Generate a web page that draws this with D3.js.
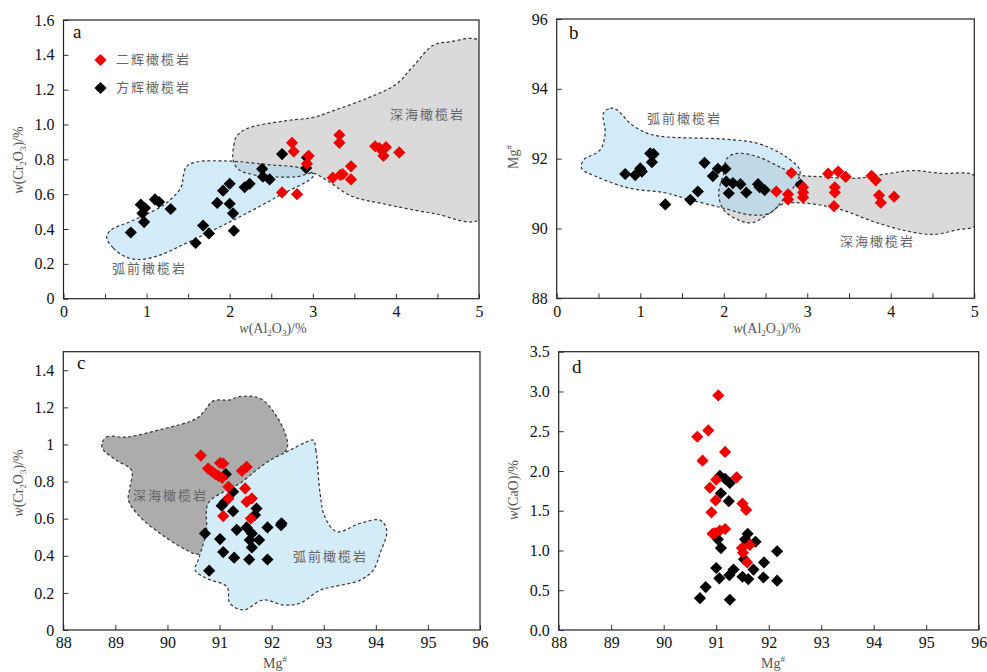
<!DOCTYPE html>
<html>
<head>
<meta charset="utf-8">
<script src="https://cdn.jsdelivr.net/npm/d3@7"></script>
<style>
  body { margin: 0; background: #fff; }
  text { font-family: "Liberation Serif", "Times New Roman", serif; }
  .cn { font-family: "Noto Sans CJK SC", sans-serif; fill: #666; font-size: 13px; letter-spacing: 2px; }
</style>
</head>
<body>
<svg id="chart" width="987" height="672"></svg>
<script>
// 图 a: w(Al2O3) - w(Cr2O3)
const aHarz = [[0.81,0.38],[0.93,0.54],[0.98,0.52],[0.95,0.49],[0.97,0.44],[1.10,0.57],[1.15,0.555],[1.29,0.515],
  [1.59,0.32],[1.68,0.42],[1.75,0.375],[1.85,0.55],[1.92,0.62],[2.00,0.66],[2.00,0.545],[2.04,0.49],[2.05,0.39],
  [2.18,0.64],[2.24,0.66],[2.39,0.745],[2.40,0.70],[2.48,0.685],[2.63,0.83],[2.92,0.75],[2.93,0.81]];
const aLherz = [[2.75,0.895],[2.77,0.845],[2.63,0.61],[2.81,0.60],[2.95,0.82],[2.93,0.775],[3.32,0.94],[3.32,0.895],
  [3.24,0.695],[3.33,0.71],[3.36,0.715],[3.46,0.76],[3.46,0.685],[3.75,0.875],[3.80,0.865],[3.88,0.87],[3.85,0.82],[4.04,0.84]];
// 图 b: w(Al2O3) - Mg#
const bHarz = [[0.82,91.56],[0.94,91.53],[1.00,91.72],[1.02,91.63],[1.12,92.15],[1.16,92.13],[1.14,91.90],[1.30,90.69],
  [1.60,90.82],[1.69,91.06],[1.77,91.88],[1.87,91.50],[1.93,91.71],[2.02,91.71],[2.03,91.34],[2.11,91.30],[2.06,91.01],
  [2.20,91.27],[2.27,91.03],[2.41,91.27],[2.43,91.18],[2.49,91.10],[2.92,91.25]];
const bLherz = [[2.63,91.06],[2.81,91.59],[2.77,90.98],[2.77,90.83],[2.95,91.18],[2.95,91.03],[2.95,90.89],[3.25,91.57],
  [3.37,91.63],[3.46,91.48],[3.33,91.18],[3.33,91.03],[3.32,90.64],[3.77,91.51],[3.82,91.38],[3.86,90.95],[3.88,90.74],[4.04,90.91]];
// 图 c: Mg# - w(Cr2O3)
const cHarz = [[90.72,0.52],[90.80,0.32],[91.01,0.49],[91.07,0.42],[91.04,0.67],[91.12,0.84],[91.26,0.64],[91.26,0.745],
  [91.28,0.39],[91.33,0.54],[91.52,0.553],[91.57,0.38],[91.62,0.52],[91.58,0.485],[91.62,0.445],[91.76,0.485],[91.71,0.655],
  [91.68,0.62],[91.92,0.38],[91.92,0.553],[92.18,0.565],[92.19,0.575],[91.10,0.69]];
const cLherz = [[90.64,0.94],[90.78,0.87],[90.85,0.855],[90.92,0.84],[90.98,0.83],[91.01,0.90],[91.07,0.897],[91.05,0.82],
  [91.17,0.772],[91.17,0.709],[91.07,0.614],[91.43,0.858],[91.52,0.879],[91.49,0.763],[91.52,0.691],[91.62,0.709],[91.60,0.601]];
// 图 d: Mg# - w(CaO)
const dHarz = [[91.07,1.94],[91.17,1.90],[91.26,1.85],[91.09,1.72],[91.24,1.62],[91.03,1.14],[91.09,1.03],[91.60,1.21],
  [91.55,1.14],[91.75,1.11],[91.53,0.89],[91.00,0.78],[91.06,0.65],[91.25,0.69],[91.33,0.76],[91.50,0.67],[91.61,0.64],
  [91.71,0.76],[91.91,0.85],[91.90,0.66],[92.16,0.99],[92.16,0.62],[90.80,0.54],[90.69,0.40],[91.26,0.38]];
const dLherz = [[91.04,2.95],[90.85,2.51],[90.64,2.43],[91.17,2.24],[90.74,2.13],[91.39,1.92],[91.00,1.89],[90.88,1.79],
  [90.99,1.63],[90.91,1.48],[91.50,1.59],[91.57,1.51],[91.17,1.27],[91.07,1.25],[90.93,1.21],[90.98,1.22],[91.49,1.03],
  [91.64,1.07],[91.51,0.97],[91.59,0.85]];

// 区域边界
const aForearc = [[0.52,0.35],[0.60,0.29],[0.75,0.24],[0.92,0.225],[1.16,0.25],[1.48,0.32],[2.04,0.45],[2.57,0.585],
  [3.01,0.71],[2.85,0.75],[2.45,0.77],[2.0,0.79],[1.60,0.785],[1.48,0.76],[1.44,0.70],[1.42,0.645],[1.24,0.55],[0.84,0.45],[0.56,0.39]];
const aAbyssal = [[2.04,0.80],[2.05,0.88],[2.08,0.93],[2.2,0.975],[2.65,1.02],[3.0,1.04],[3.25,1.08],[3.65,1.15],[4.0,1.23],
  [4.2,1.33],[4.45,1.455],[4.65,1.475],[5.02,1.475],[5.02,0.46],[4.45,0.49],[3.85,0.545],[3.46,0.59],[3.17,0.68],[3.0,0.72],
  [2.8,0.70],[2.3,0.71],[2.1,0.745]];
const bForearc = [[0.56,93.30],[0.64,93.44],[0.72,93.40],[0.88,93.01],[1.08,92.73],[1.28,92.63],[2.0,92.56],[2.40,92.44],
  [2.71,92.11],[2.91,91.68],[2.89,91.39],[2.71,90.82],[2.55,90.44],[2.32,90.39],[2.0,90.58],[1.60,90.82],[1.28,91.03],
  [0.88,91.15],[0.48,91.48],[0.30,91.72],[0.32,91.96],[0.52,92.25],[0.58,92.73]];
const bAbyssal = [[2.16,92.15],[2.40,92.06],[2.71,91.72],[2.91,91.53],[3.19,91.48],[3.59,91.44],[3.99,91.58],[4.27,91.66],
  [4.59,91.58],[5.02,91.48],[5.02,90.10],[4.79,89.96],[4.51,89.83],[4.19,89.93],[3.79,90.20],[3.39,90.55],[2.99,90.72],
  [2.71,90.70],[2.55,90.44],[2.35,90.17],[2.20,90.22],[2.0,90.53],[1.94,91.01],[2.0,91.58],[2.04,92.01]];
const cAbyssal = [[88.74,1.0],[88.83,1.04],[89.22,1.04],[89.86,1.08],[90.56,1.14],[90.72,1.185],[90.88,1.235],[91.2,1.24],
  [91.36,1.257],[91.78,1.248],[92.1,1.15],[92.3,1.02],[92.28,0.97],[91.8,0.85],[91.3,0.7],[91.0,0.55],[90.6,0.41],[90.37,0.43],
  [89.86,0.52],[89.47,0.61],[89.25,0.70],[89.28,0.77],[89.31,0.86],[89.02,0.915],[88.77,0.97]];
const cForearc = [[92.80,1.023],[92.85,0.97],[92.93,0.736],[93.02,0.61],[93.25,0.53],[93.70,0.575],[94.08,0.592],[94.21,0.538],
  [94.08,0.413],[93.95,0.323],[93.70,0.269],[93.18,0.233],[92.93,0.215],[92.54,0.144],[92.22,0.135],[91.84,0.162],[91.46,0.108],
  [91.20,0.144],[91.14,0.233],[90.75,0.278],[90.53,0.323],[90.59,0.377],[90.69,0.467],[90.75,0.538],[90.78,0.682],[91.14,0.754],
  [91.39,0.79],[91.71,0.862],[91.97,0.915],[92.35,0.969],[92.67,1.014]];

const seriesNames = ['二辉橄榄岩', '方辉橄榄岩'];
const colLherz = '#f00000', colHarz = '#000';

const svg = d3.select('#chart');
svg.append('rect').attr('width', 987).attr('height', 672).attr('fill', '#fff');
let clipId = 0;

function title(g, x, y, parts, rotate) {
  const t = g.append('text').attr('fill', '#555').style('font-size', '14px')
    .attr('text-anchor', 'middle')
    .attr('transform', `translate(${x},${y})` + (rotate ? 'rotate(-90)' : ''))
    .attr('dy', '0.35em');
  let shift = 0;
  parts.forEach(p => {
    const s = t.append('tspan').text(p[0]);
    const want = p[1] === 's' ? 3 : p[1] === 'u' ? -6 : 0;
    if (want !== shift) { s.attr('dy', want - shift); shift = want; }
    if (p[1] === 'i') s.style('font-style', 'italic');
    if (p[1] === 's' || p[1] === 'u') s.style('font-size', '9px');
  });
}

function panel(cfg) {
  const [x0, x1, y0, y1] = cfg.box;
  const x = d3.scaleLinear().domain(cfg.xDomain).range([x0, x1]);
  const y = d3.scaleLinear().domain(cfg.yDomain).range([y1, y0]);
  const g = svg.append('g');
  const id = 'clip' + (clipId++);
  g.append('clipPath').attr('id', id).append('rect')
    .attr('x', x0).attr('y', y0).attr('width', x1 - x0).attr('height', y1 - y0);

  const line = d3.line().x(d => x(d[0])).y(d => y(d[1])).curve(d3.curveCatmullRomClosed.alpha(0.5));
  const area = g.append('g').attr('clip-path', `url(#${id})`);
  const regions = cfg.regions || [];
  // 填充（可半透明叠加），再画虚线边界
  regions.forEach(r => {
    area.append('path').attr('d', line(r.pts)).attr('fill', r.fill)
      .attr('fill-opacity', r.opacity || 1);
    if (r.outlineNow) {
      area.append('path').attr('d', line(r.pts)).attr('fill', 'none')
        .attr('stroke', '#333').attr('stroke-width', 1.2).attr('stroke-dasharray', '3,2.5');
    }
  });
  regions.filter(r => !r.outlineNow).forEach(r => {
    area.append('path').attr('d', line(r.pts)).attr('fill', 'none')
      .attr('stroke', '#333').attr('stroke-width', 1.2).attr('stroke-dasharray', '3,2.5');
  });
  (cfg.labels || []).forEach(l => {
    g.append('text').attr('class', 'cn').attr('x', l[0]).attr('y', l[1])
      .attr('dominant-baseline', 'middle').text(l[2]);
  });

  const diamond = d3.symbol(d3.symbolSquare, 74);
  [[cfg.harz, colHarz], [cfg.lherz, colLherz]].forEach(([data, col]) => {
    g.append('g').selectAll('path').data(data).join('path')
      .attr('d', diamond)
      .attr('transform', d => `translate(${x(d[0])},${y(d[1])})rotate(45)`)
      .attr('fill', col);
  });

  const xAxis = d3.axisBottom(x).tickValues(cfg.xTicks).tickFormat(cfg.xFmt)
    .tickSizeInner(-5).tickSizeOuter(0).tickPadding(7);
  const yAxis = d3.axisLeft(y).tickValues(cfg.yTicks).tickFormat(cfg.yFmt)
    .tickSizeInner(-5).tickSizeOuter(0).tickPadding(9);
  [[xAxis, `translate(0,${y1})`], [yAxis, `translate(${x0},0)`]].forEach(([ax, tr]) => {
    const a = g.append('g').attr('transform', tr).call(ax);
    a.select('.domain').remove();
    a.selectAll('line').attr('stroke', '#333');
    a.selectAll('text').style('font-size', '16px').style('font-family', '"Liberation Serif", serif').attr('fill', '#111');
  });
  g.append('rect').attr('x', x0).attr('y', y0).attr('width', x1 - x0).attr('height', y1 - y0)
    .attr('fill', 'none').attr('stroke', '#222').attr('stroke-width', 1.2);

  g.append('text').attr('x', cfg.letter[0]).attr('y', cfg.letter[1]).style('font-size', '19px')
    .attr('fill', '#111').text(cfg.letter[2]);
  title(g, cfg.xTitle[0], cfg.xTitle[1], cfg.xTitle[2], false);
  title(g, cfg.yTitle[0], cfg.yTitle[1], cfg.yTitle[2], true);
  return g;
}

const f1 = v => v === 0 ? '0' : d3.format('.1f')(v);
const intOnly = v => Number.isInteger(Math.round(v * 1000) / 1000) ? d3.format('d')(v) : '';
const al = [['w', 'i'], ['(Al'], ['2', 's'], ['O'], ['3', 's'], [')/%']];
const cr = [['w', 'i'], ['(Cr'], ['2', 's'], ['O'], ['3', 's'], [')/%']];
const mg = [['Mg'], ['#', 'u']];
// 半透明蓝色叠在灰色上，交叠处呈蓝灰色
const blueSemi = '#a8d5f3', grey = '#dadada', darkGrey = '#acacac', blue = '#d4ebf8';

const ga = panel({
  box: [63.5, 479, 20, 298.7], xDomain: [0, 5], yDomain: [0, 1.6],
  xTicks: d3.range(0, 5.01, 0.5), xFmt: intOnly,
  yTicks: d3.range(0, 1.61, 0.2), yFmt: f1,
  harz: aHarz, lherz: aLherz,
  regions: [{ pts: aAbyssal, fill: grey }, { pts: aForearc, fill: blueSemi, opacity: 0.5 }],
  labels: [[390, 115, '深海橄榄岩'], [112, 269, '弧前橄榄岩']],
  letter: [73, 38, 'a'], xTitle: [273, 328, al], yTitle: [18, 160, cr]
});
// 图例
[[colLherz, 60, seriesNames[0]], [colHarz, 88, seriesNames[1]]].forEach(([c, yy, name]) => {
  ga.append('path').attr('d', d3.symbol(d3.symbolSquare, 74))
    .attr('transform', `translate(100.5,${yy})rotate(45)`).attr('fill', c);
  ga.append('text').attr('class', 'cn').attr('x', 116).attr('y', yy)
    .attr('dominant-baseline', 'middle').text(name);
});

panel({
  box: [556.7, 974.3, 19, 298.3], xDomain: [0, 5], yDomain: [88, 96],
  xTicks: d3.range(0, 5.01, 0.5), xFmt: intOnly,
  yTicks: d3.range(88, 96.1, 2), yFmt: d3.format('d'),
  harz: bHarz, lherz: bLherz,
  regions: [{ pts: bAbyssal, fill: grey }, { pts: bForearc, fill: blueSemi, opacity: 0.5 }],
  labels: [[647, 119, '弧前橄榄岩'], [840, 242, '深海橄榄岩']],
  letter: [569, 39, 'b'], xTitle: [767, 328, al], yTitle: [513, 157, mg]
});

panel({
  box: [63.3, 480, 351.7, 630], xDomain: [88, 96], yDomain: [0, 1.5],
  xTicks: d3.range(88, 96.1, 1), xFmt: d3.format('d'),
  yTicks: d3.range(0, 1.41, 0.2), yFmt: d3.format(''),
  harz: cHarz, lherz: cLherz,
  regions: [{ pts: cAbyssal, fill: darkGrey, outlineNow: true }, { pts: cForearc, fill: blue, outlineNow: true }],
  labels: [[133, 496, '深海橄榄岩'], [293, 557, '弧前橄榄岩']],
  letter: [77, 369, 'c'], xTitle: [275, 663, mg], yTitle: [18, 483, cr]
});

panel({
  box: [558.7, 978.7, 351.7, 630], xDomain: [88, 96], yDomain: [0, 3.5],
  xTicks: d3.range(88, 96.1, 1), xFmt: d3.format('d'),
  yTicks: d3.range(0, 3.51, 0.5), yFmt: d3.format('.1f'),
  harz: dHarz, lherz: dLherz,
  letter: [572, 373, 'd'], xTitle: [773, 663, mg],
  yTitle: [513, 490, [['w', 'i'], ['(CaO)/%']]]
});
</script>
</body>
</html>
